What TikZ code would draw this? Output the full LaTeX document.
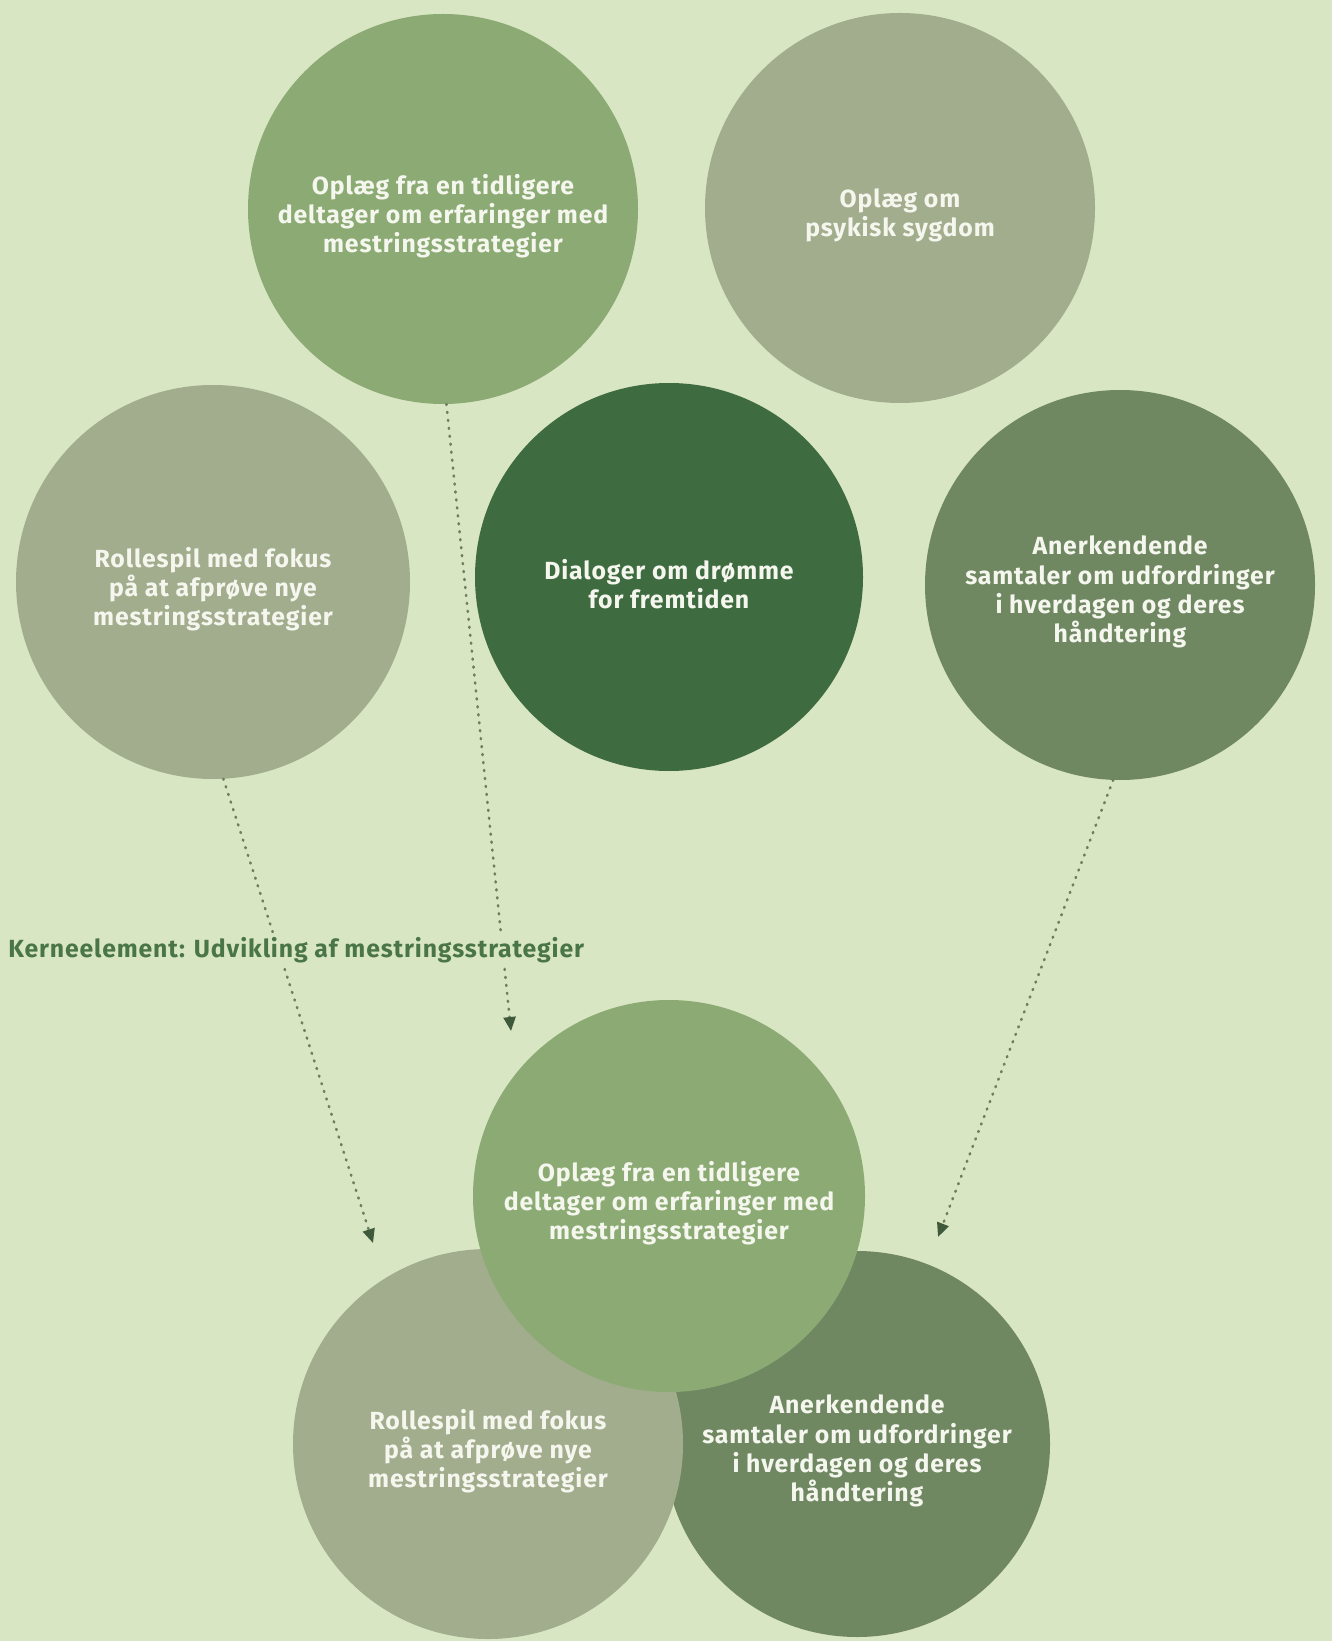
\documentclass[tikz,border=0pt]{standalone}
\usepackage{fontspec}
\setmainfont{Fira Sans}[LetterSpace=3.5]
\usetikzlibrary{arrows.meta}

\definecolor{bg}{HTML}{D9E6C3}
\definecolor{leaf}{HTML}{8CAB74}
\definecolor{sage}{HTML}{A1AD8D}
\definecolor{forest}{HTML}{3F6B40}
\definecolor{moss}{HTML}{6F8862}
\definecolor{circletext}{HTML}{F5F7EF}
\definecolor{labeltext}{HTML}{4A7647}
\definecolor{dotline}{HTML}{6F7D62}
\definecolor{tipcol}{HTML}{3E5A3A}

\tikzset{
  bubble/.style={circle, inner sep=0pt, outer sep=0pt},
  caption/.style={align=center, inner sep=0pt, yshift=-3.5pt,
    text=circletext, font=\fontsize{12.4pt}{14.6pt}\selectfont\bfseries},
  flow/.style={draw=dotline, line width=1.3pt, line cap=round,
    dash pattern=on 0.5pt off 3.5pt,
    -{Triangle[length=7pt, width=6pt, fill=tipcol, color=tipcol]}},
  heading/.style={anchor=west, fill=bg, inner sep=1.5pt, text=labeltext,
    font=\fontsize{12.4pt}{14pt}\selectfont\bfseries}
}

\begin{document}
\begin{tikzpicture}[x=0.5pt, y=-0.5pt]
  \fill[bg] (0,0) rectangle (1332,1641);
  \useasboundingbox (0,0) rectangle (1332,1641);

  % upper group of activities
  \node[bubble, fill=leaf,   minimum size=195pt] (a) at (443,209) {};
  \node[bubble, fill=sage,   minimum size=195pt] (b) at (900,208) {};
  \node[bubble, fill=sage,   minimum size=197pt] (c) at (213,582) {};
  \node[bubble, fill=forest, minimum size=194pt] (d) at (669,577) {};
  \node[bubble, fill=moss,   minimum size=195pt] (e) at (1120,585) {};

  \node[caption] (at) at (a) {Oplæg fra en tidligere\\deltager om erfaringer med\\mestringsstrategier};
  \node[caption] (bt) at (b) {Oplæg om\\psykisk sygdom};
  \node[caption] (ct) at (c) {Rollespil med fokus\\på at afprøve nye\\mestringsstrategier};
  \node[caption] (dt) at (d) {Dialoger om drømme\\for fremtiden};
  \node[caption] (et) at (e) {Anerkendende\\samtaler om udfordringer\\i hverdagen og deres\\håndtering};

  % core element cluster
  \node[bubble, fill=moss, minimum size=193pt] (h) at (857,1444) {};
  \node[bubble, fill=sage, minimum size=195pt] (g) at (488,1444) {};
  \node[bubble, fill=leaf, minimum size=196pt] (f) at (669,1196) {};

  \node[caption] (ht) at (h) {Anerkendende\\samtaler om udfordringer\\i hverdagen og deres\\håndtering};
  \node[caption] (gt) at (g) {Rollespil med fokus\\på at afprøve nye\\mestringsstrategier};
  \node[caption] (ft) at (f) {Oplæg fra en tidligere\\deltager om erfaringer med\\mestringsstrategier};

  % arrow targets above the cluster
  \coordinate (tg) at (373,1243);
  \coordinate (tf) at (511,1031);
  \coordinate (th) at (938,1237);

  \draw[flow] (c.273) -- (tg);
  \draw[flow] (a.271) -- (tf);
  \draw[flow] (e.268) -- (th);

  \node[heading] (k) at (5,950) {Kerneelement: Udvikling af mestringsstrategier};
\end{tikzpicture}
\end{document}
